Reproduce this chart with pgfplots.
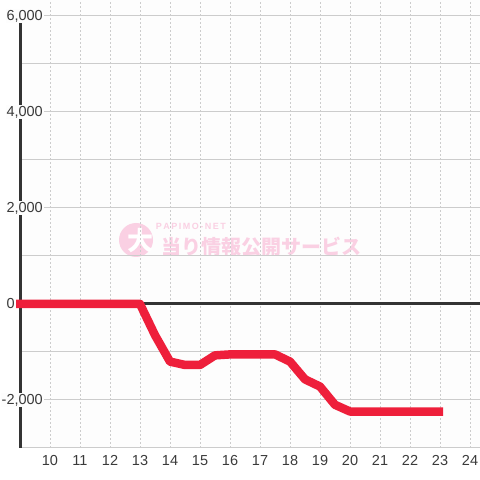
\documentclass[border=0pt]{standalone}
\usepackage{fontspec}
\setmainfont{Liberation Sans}
\newfontfamily\cjk{Noto Sans CJK JP}
\usepackage{pgfplots}
\pgfplotsset{compat=1.18}
\definecolor{linered}{HTML}{EE1F3B}
\definecolor{gridc}{HTML}{CCCCCC}
\definecolor{axisdark}{HTML}{333333}
\definecolor{bg}{HTML}{FDFDFD}
\definecolor{wm}{HTML}{FAD0E3}
\definecolor{labc}{HTML}{3A3A3A}
\begin{document}
\begin{tikzpicture}[x=1pt,y=1pt]
\pgfplotstableread{
x y
8.87 0
9.5 0
10 0
10.5 0
11 0
11.5 0
12 0
12.5 0
13 0
13.5 -650
14 -1200
14.5 -1270
15 -1270
15.5 -1070
16 -1050
16.5 -1050
17 -1050
17.5 -1050
18 -1200
18.5 -1570
19 -1720
19.5 -2100
20 -2240
20.5 -2240
21 -2240
21.5 -2240
22 -2240
22.5 -2240
23 -2240
23.1 -2240
}\datatable
\begin{axis}[
  set layers=standard,
  at={(20pt,32pt)}, anchor=south west,
  scale only axis, width=460pt, height=448pt,
  xmin=9, xmax=24.333, ymin=-3000, ymax=6333,
  axis background/.style={fill=bg},
  axis x line*=bottom, axis y line*=left,
  x axis line style={-, draw=gridc, line width=1pt},
  y axis line style={-, draw=axisdark, line width=3pt, shorten >=16pt},
  xtick={10,...,24},
  xticklabels={10,11,12,13,14,15,16,17,18,19,20,21,22,23,24},
  ytick={-2000,2000,4000,6000},
  yticklabels={{-2,000},{2,000},{4,000},{6,000}},
  minor ytick={-1000,1000,3000,5000},
  major tick length=0pt, minor tick length=0pt,
  xmajorgrids=true, ymajorgrids=true, yminorgrids=true,
  major x grid style={draw=gridc, line width=0.8pt, dash pattern=on 2pt off 2pt},
  major y grid style={draw=gridc, line width=1pt},
  minor y grid style={draw=gridc, line width=1pt},
  extra y ticks={0},
  extra y tick labels={0},
  extra y tick style={grid=major, major y grid style={draw=axisdark, line width=3pt}, yticklabel style={xshift=-28pt}},
  tick label style={font=\fontsize{14.5}{16}\selectfont, text=labc},
  yticklabel style={anchor=east, xshift=24pt, inner sep=1pt, fill=bg},
  xticklabel style={anchor=north, yshift=-4pt},
  clip=false,
]
\begin{pgfonlayer}{axis background}
\fill[wm] (rel axis cs:0.2522,0.4643) circle (17pt);
\node[text=white,font=\cjk\bfseries\fontsize{26}{26}\selectfont] at (rel axis cs:0.2630,0.4621) {大};
\node[text=wm,font=\bfseries\fontsize{9}{9}\selectfont,inner sep=0pt] at (rel axis cs:0.3717,0.4944) {P\,A\,P\,I\,M\,O\,-\,N\,E\,T};
\node[text=wm,font=\cjk\bfseries\fontsize{20}{20}\selectfont,anchor=west,inner sep=0pt] at (rel axis cs:0.3065,0.4487) {当り情報公開サービス};
\end{pgfonlayer}
\addplot[linered, line width=8.5pt, line join=round, no markers] table[x=x,y=y] {\datatable};
\end{axis}
\pgfresetboundingbox
\path[use as bounding box] (0,0) rectangle (480,480);
\end{tikzpicture}
\end{document}
